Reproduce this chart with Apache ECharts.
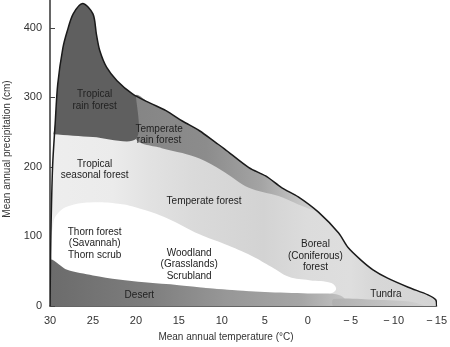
<!DOCTYPE html>
<html><head><meta charset="utf-8">
<script src="https://cdn.jsdelivr.net/npm/echarts@6/dist/echarts.min.js"></script>
<style>html,body{margin:0;padding:0;background:#fff}#c{width:450px;height:347px}</style>
</head><body><div id="c"></div>
<script>
// ---- data (temperature °C, precipitation cm) ----
const xTicks = [30, 25, 20, 15, 10, 5, 0, -5, -10, -15];
const yTicks = [0, 100, 200, 300, 400];
const yMax = 440;

const outerBoundary = [[30,0],[29.9,100],[29.7,200],[29.4,262],[29.1,319],[28.5,371],[28.0,395],[27.3,420],[26.2,435],[25.0,420],[24.6,391],[24.2,367],[23.4,343],[22.2,324],[20.4,305],[18.4,292],[16.5,281],[14.6,266],[12.6,252],[10.7,235],[9.7,226],[6.85,199],[4.9,187],[3.0,170],[1.1,157],[-1.25,135],[-3.6,105],[-4.7,84],[-6.2,66],[-7.6,52],[-9.3,40],[-11.7,27],[-14.0,16],[-14.9,9],[-15,0]];

const tropicalRainForest = [[29.6,247],[29.4,262],[29.1,319],[28.5,371],[28.0,395],[27.3,420],[26.2,435],[25.0,420],[24.6,391],[24.2,367],[23.4,343],[22.2,324],[20.4,305],[20.0,302],[20.0,240],[25,243],[29.6,247]];

const temperateRainForest = [[20.0,303],[18.4,292],[16.5,281],[14.6,266],[12.6,252],[10.7,235],[9.7,226],[6.85,199],[4.9,187],[3.0,170],[1.1,157],[-1.0,137],[1.1,146],[3.4,158],[6.85,170],[10,195],[12.6,212],[14.6,220],[17,227],[20,240]];

const thornWoodland = [[29.6,120],[28.8,137],[27.5,145],[25.4,149],[22,147],[19.5,140],[16.5,127],[12.6,103],[9.7,89],[6.5,72],[4.2,56],[2.2,42],[-0.2,37],[-2.75,33],[-3.3,24],[-2.5,17],[-1,16],[3,18],[8,22],[14,28],[19.5,33],[24,40],[27,47],[29.6,62]];

const desert = [[30,0],[30,66],[28,52],[25,44],[22,38],[19,34],[15,30],[10,24],[5,20],[0,18],[-3.3,17],[-4.2,12],[-4.5,0]];

const tundraStrip = [[-3,0],[-3,10],[-8,9],[-12,6],[-13.5,0]];

const labelTexts = ['Tropical\nrain forest','Temperate\nrain forest','Tropical\nseasonal forest','Temperate forest','Thorn forest\n(Savannah)\nThorn scrub','Woodland\n(Grasslands)\nScrubland','Boreal\n(Coniferous)\nforest','Desert','Tundra'];
const labelTemp =   [24.8, 17.3, 24.8, 12.06, 24.8, 13.8, -0.9, 19.6, -9.1];
const labelPrecip = [296, 246, 195.6, 150, 90, 60, 72, 16, 17];

// ---- chart ----
const G = echarts.graphic;
function lin(stops){ return new G.LinearGradient(0,0,1,0, stops.map(s=>({offset:s[0], color:s[1]}))); }

function polySeries(pts, fill, z, smooth){
  return {
    type:'custom', coordinateSystem:'cartesian2d', silent:true, clip:true, z:z,
    data:[pts[0]],
    renderItem:(params, api)=>({
      type:'polygon',
      shape:{points: pts.map(p=>api.coord(p)), smooth: smooth},
      style:{fill: fill}
    })
  };
}

const chart = echarts.init(document.getElementById('c'), null, {renderer:'canvas'});
chart.setOption({
  animation:false,
  backgroundColor:'#fff',
  grid:{left:50, right:12, top:0, bottom:41},
  xAxis:{
    type:'value', inverse:true, min:xTicks[xTicks.length-1], max:xTicks[0], interval:5,
    axisLine:{show:true, onZero:false, lineStyle:{color:'#333', width:1.5}},
    axisTick:{show:true, inside:true, length:5, lineStyle:{color:'#444'}},
    splitLine:{show:false},
    axisLabel:{margin:9, fontSize:11, color:'#333', fontFamily:'Liberation Sans',
      formatter:v=> v<0 ? '\u2212\u2009'+(-v) : String(v)}
  },
  yAxis:{
    type:'value', min:yTicks[0], max:yMax, interval:100,
    axisLine:{show:true, onZero:false, lineStyle:{color:'#333', width:1.5}},
    axisTick:{show:true, inside:true, length:5, lineStyle:{color:'#444'}},
    splitLine:{show:false},
    axisLabel:{margin:8, fontSize:11, color:'#333', fontFamily:'Liberation Sans', showMaxLabel:false}
  },
  graphic:[
    {type:'text', x:226, y:337, style:{text:'Mean annual temperature (°C)', font:'10px "Liberation Sans"', fill:'#333', align:'center', verticalAlign:'middle'}},
    {type:'text', x:7, y:149, rotation:Math.PI/2, style:{text:'Mean annual precipitation (cm)', font:'10px "Liberation Sans"', fill:'#333', align:'center', verticalAlign:'middle'}}
  ],
  series:[
    polySeries(outerBoundary, lin([[0,'#eeeeee'],[0.18,'#ebebeb'],[0.27,'#e2e2e2'],[0.38,'#dadada'],[0.56,'#d3d3d3'],[0.67,'#dcdcdc'],[0.78,'#dedede'],[0.84,'#d7d7d7'],[1,'#d4d4d4']]), 1, 0.3),
    polySeries(temperateRainForest, lin([[0,'#858585'],[0.4,'#8c8c8c'],[0.7,'#a4a4a4'],[1,'#d2d2d2']]), 2, 0.3),
    polySeries(tropicalRainForest, '#5f5f5f', 3, 0.3),
    polySeries(thornWoodland, '#ffffff', 4, 0.4),
    polySeries(desert, lin([[0,'#6a6a6a'],[0.35,'#7e7e7e'],[0.6,'#979797'],[0.85,'#a6a6a6'],[1,'#c4c4c4']]), 5, 0.3),
    polySeries(tundraStrip, lin([[0,'#b0b0b0'],[1,'#d0d0d0']]), 5, 0.3),
    {
      type:'custom', coordinateSystem:'cartesian2d', silent:true, clip:true, z:8,
      data:[outerBoundary[0]],
      renderItem:(params, api)=>({
        type:'polyline',
        shape:{points: outerBoundary.map(p=>api.coord(p)), smooth:0.3},
        style:{stroke:'#1a1a1a', lineWidth:1.5, fill:null}
      })
    },
    {
      type:'custom', coordinateSystem:'cartesian2d', silent:true, z:10,
      data: labelTemp.map((t,i)=>[t, labelPrecip[i]]),
      renderItem:(params, api)=>{
        const c = api.coord([api.value(0), api.value(1)]);
        return {type:'text', x:c[0], y:c[1], style:{text:labelTexts[params.dataIndex], font:'10px "Liberation Sans"', fill:'#222', align:'center', verticalAlign:'middle', lineHeight:11.5}};
      }
    }
  ]
});
</script>
</body></html>
